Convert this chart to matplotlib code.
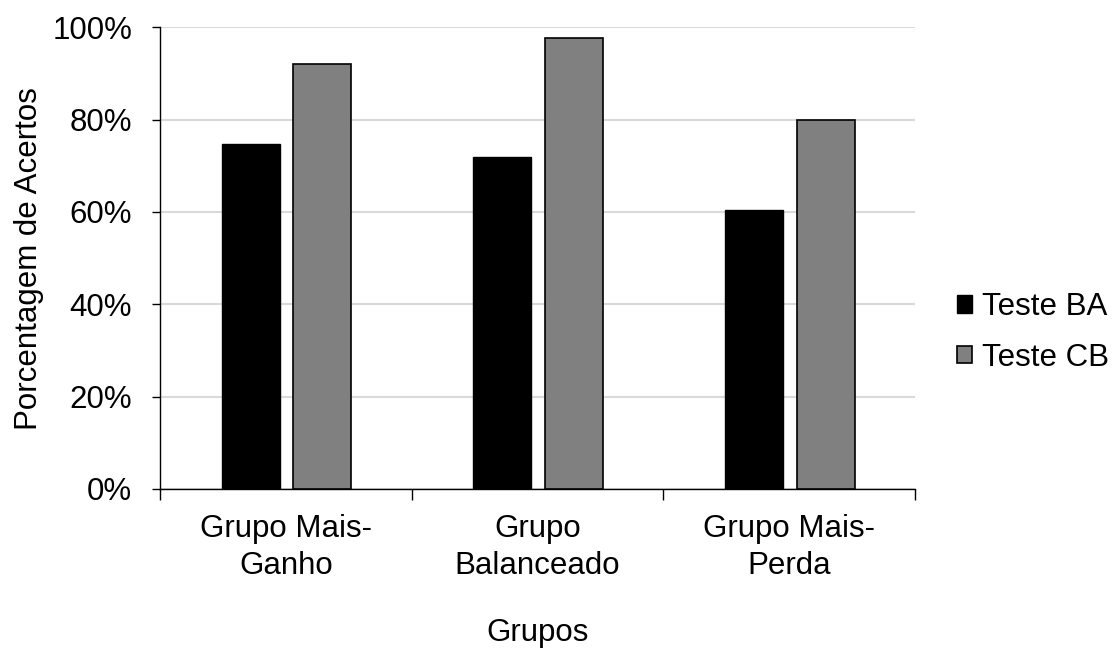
import matplotlib.pyplot as plt
import numpy as np
from matplotlib.ticker import PercentFormatter

plt.rcParams['font.family'] = ['Liberation Sans', 'DejaVu Sans']

grupos = ["Grupo Mais-\nGanho", "Grupo\nBalanceado", "Grupo Mais-\nPerda"]
teste_ba = [74.8, 72.0, 60.5]
teste_cb = [92.1, 97.6, 80.0]

x = np.arange(len(grupos))
width = 0.23
fs = 22.5

fig = plt.figure(figsize=(11.19, 6.48), dpi=100)
ax = fig.add_axes([0.143, 0.2454, 0.6747, 0.7125])

ax.bar(x - 0.14, np.array(teste_ba) / 100, width, color='black',
       edgecolor='black', linewidth=1, label='Teste BA', zorder=3)
ax.bar(x + 0.145, np.array(teste_cb) / 100, width, color='#808080',
       edgecolor='black', linewidth=1.2, label='Teste CB', zorder=3)

ax.set_ylim(0, 1)
ax.set_xlim(-0.5, 2.5)
ax.set_yticks(np.arange(0, 1.01, 0.2))
ax.yaxis.set_major_formatter(PercentFormatter(1.0, decimals=0))
ax.grid(axis='y', color='#d9d9d9', linewidth=1.5, zorder=0)

# group separators as major ticks, names as minor ticks
ax.set_xticks([-0.5, 0.5, 1.5, 2.5])
ax.set_xticklabels([])
ax.set_xticks(x, minor=True)
ax.set_xticklabels(grupos, minor=True, fontsize=fs, linespacing=1.3)
ax.tick_params(axis='x', which='minor', length=0, pad=18)
ax.tick_params(axis='x', which='major', length=8, width=1)
ax.tick_params(axis='y', length=6, width=1, labelsize=fs, pad=14)

for side in ['top', 'right']:
    ax.spines[side].set_visible(False)
for side in ['left', 'bottom']:
    ax.spines[side].set_linewidth(1)
    ax.spines[side].set_color('black')

ax.set_ylabel('Porcentagem de Acertos', fontsize=fs, va='center')
ax.yaxis.set_label_coords(-0.173, 0.5)
ax.set_xlabel('Grupos', fontsize=fs, va='center')
ax.xaxis.set_label_coords(0.5, -0.312)

ax.legend(loc='center left', bbox_to_anchor=(1.019, 0.339), frameon=False,
          fontsize=fs, handlelength=0.48, handleheight=0.48,
          handletextpad=0.32, labelspacing=0.65)

fig.savefig('out.png', dpi=100)
